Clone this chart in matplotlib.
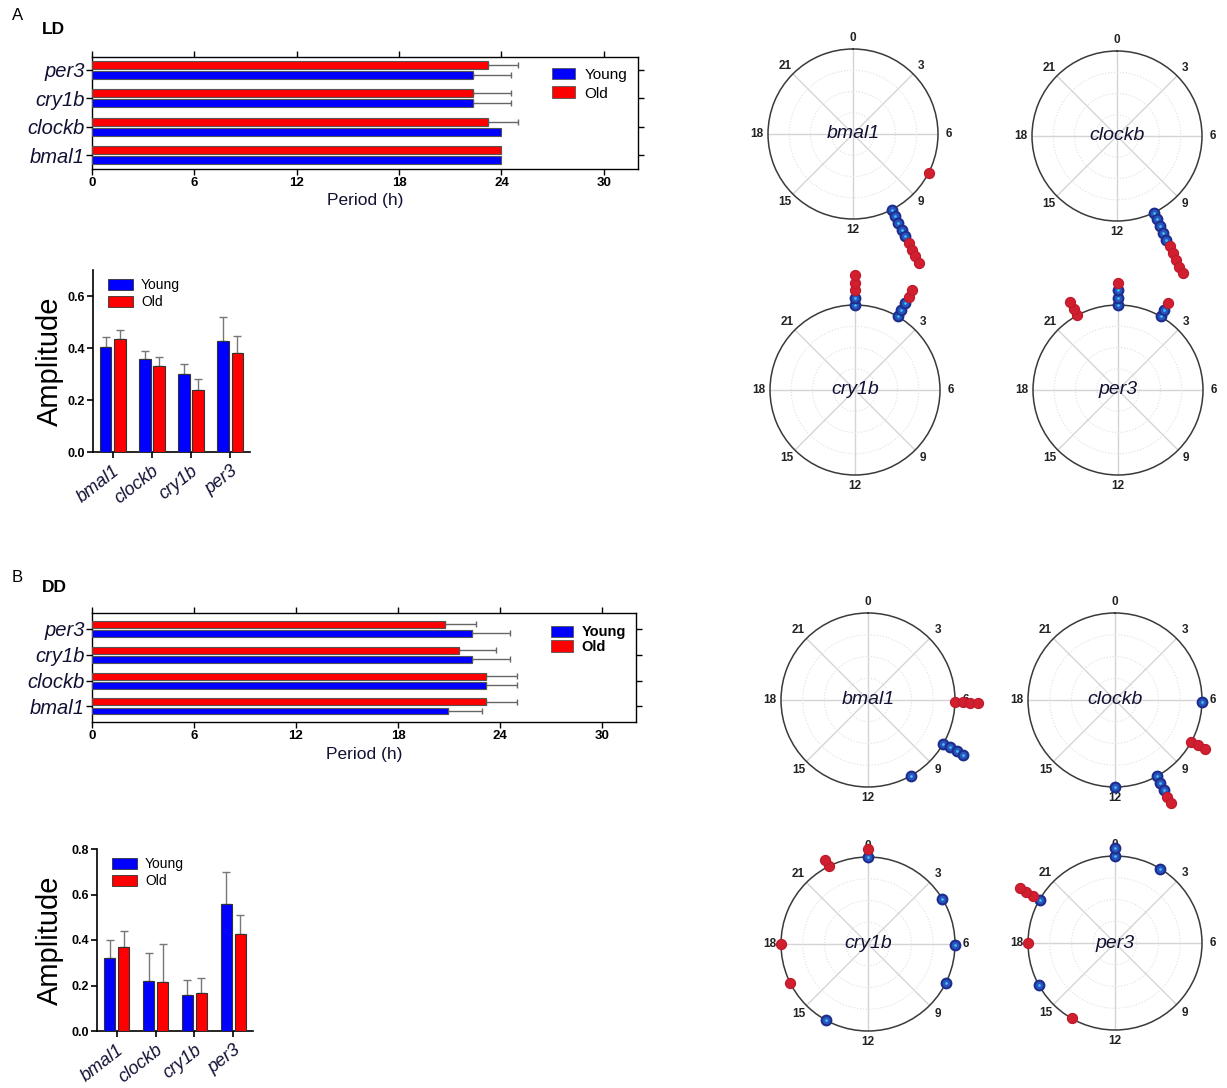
import numpy as np
import matplotlib
matplotlib.use('Agg')
import matplotlib.pyplot as plt
from matplotlib.patches import Patch

plt.rcParams['font.family'] = ['Liberation Sans', 'DejaVu Sans']

# ---------------- data ----------------
genes = ['bmal1', 'clockb', 'cry1b', 'per3']
groups = ['Young', 'Old']

ld_period_young = [24.0, 24.0, 22.35, 22.35]
ld_period_young_err = [0.0, 0.0, 2.2, 2.2]
ld_period_old = [24.0, 23.2, 22.35, 23.2]
ld_period_old_err = [0.0, 1.75, 2.2, 1.75]

dd_period_young = [20.95, 23.15, 22.37, 22.37]
dd_period_young_err = [2.0, 1.83, 2.23, 2.23]
dd_period_old = [23.15, 23.15, 21.56, 20.76]
dd_period_old_err = [1.83, 1.83, 2.2, 1.83]

ld_amp_young = [0.405, 0.358, 0.300, 0.427]
ld_amp_young_err = [0.039, 0.032, 0.038, 0.093]
ld_amp_old = [0.435, 0.329, 0.240, 0.381]
ld_amp_old_err = [0.035, 0.036, 0.041, 0.067]

dd_amp_young = [0.320, 0.220, 0.158, 0.560]
dd_amp_young_err = [0.079, 0.123, 0.067, 0.140]
dd_amp_old = [0.370, 0.214, 0.169, 0.426]
dd_amp_old_err = [0.070, 0.169, 0.064, 0.083]

# peak phases (h) of individual fish, per gene (order as in genes)
ld_phase_young = [[10.2, 10.2, 10.2, 10.2, 10.2],
                  [10.3, 10.3, 10.3, 10.3, 10.3],
                  [0.0, 0.0, 2.0, 2.0, 2.0],
                  [0.0, 0.0, 0.0, 2.0, 2.0]]
ld_phase_old = [[7.8, 10.2, 10.2, 10.2, 10.2],
                [10.3, 10.3, 10.3, 10.3, 10.3],
                [0.0, 0.0, 0.0, 2.0, 2.0],
                [0.0, 2.0, 22.1, 22.1, 22.1]]
dd_phase_young = [[8.0, 8.0, 8.0, 8.0, 10.05],
                  [6.1, 10.1, 10.1, 10.1, 12.0],
                  [0.0, 3.9, 6.05, 7.8, 13.9],
                  [0.0, 0.0, 2.1, 20.0, 16.1]]
dd_phase_old = [[6.1, 6.1, 6.1, 6.1],
                [7.9, 7.9, 7.9, 10.1, 10.1],
                [0.0, 22.2, 22.2, 18.0, 16.2],
                [20.0, 20.0, 20.0, 18.0, 14.0]]

period_ticks = [0, 6, 12, 18, 24, 30]
hour_labels = [0, 3, 6, 9, 12, 15, 18, 21]

# ---------------- style ----------------
YOUNG = '#0000ff'
OLD = '#ff0000'
TXT = '#111133'
W, H = 1227, 1088
fig = plt.figure(figsize=(W / 100, H / 100), dpi=100)


def px_axes(l, t, r, b, **kw):
    return fig.add_axes([l / W, 1 - b / H, (r - l) / W, (b - t) / H], **kw)


def period_chart(ax, young, young_err, old, old_err, ylim, legend_bold, legend_gap, anchor_y):
    y = np.arange(len(genes))
    off, h = 0.175, 0.27
    young = np.array(young); old = np.array(old)
    young_err = np.array(young_err); old_err = np.array(old_err)
    ax.barh(y - off, young, height=h, color=YOUNG, edgecolor='#555555', lw=0.8, zorder=3)
    ax.barh(y + off, old, height=h, color=OLD, edgecolor='#555555', lw=0.8, zorder=3)
    for vals, errs, yy in ((young, young_err, y - off), (old, old_err, y + off)):
        m = errs > 0
        ax.errorbar(vals[m], yy[m], xerr=[np.zeros(m.sum()), errs[m]], fmt='none',
                    ecolor='#666666', elinewidth=1, capsize=2, capthick=1, zorder=2)
    ax.set_xlim(0, 32)
    ax.set_ylim(*ylim)
    ax.set_xticks(period_ticks)
    ax.set_xticklabels([str(t) for t in period_ticks], fontsize=9.5, fontweight='bold')
    ax.set_yticks(y)
    ax.set_yticklabels(genes, fontsize=14.5, style='italic', color=TXT)
    ax.tick_params(axis='both', direction='out', top=True, right=True, length=4,
                   width=1, pad=2)
    ax.tick_params(axis='y', pad=1)
    for s in ax.spines.values():
        s.set_linewidth(1)
    ax.set_xlabel('Period (h)', fontsize=12.5, labelpad=3, color=TXT)
    handles = [Patch(facecolor=YOUNG, edgecolor='#555555', lw=0.6),
               Patch(facecolor=OLD, edgecolor='#555555', lw=0.6)]
    ax.legend(handles, groups, loc='upper right', frameon=False,
              prop=dict(size=11 if not legend_bold else 10.5,
                        weight='bold' if legend_bold else 'normal'),
              handlelength=1.5, handleheight=0.8, handletextpad=0.6,
              labelspacing=legend_gap, borderaxespad=0.3,
              bbox_to_anchor=(1.0, anchor_y))


def amp_chart(ax, young, young_err, old, old_err, ymax, yticks, label_x):
    x = np.arange(len(genes))
    off, w = 0.18, 0.29
    ax.bar(x - off, young, w, color=YOUNG, edgecolor='#333333', lw=0.8, zorder=3)
    ax.bar(x + off, old, w, color=OLD, edgecolor='#333333', lw=0.8, zorder=3)
    ax.errorbar(x - off, young, yerr=[np.zeros(4), young_err], fmt='none',
                ecolor='#777777', elinewidth=1, capsize=3, capthick=1, zorder=2)
    ax.errorbar(x + off, old, yerr=[np.zeros(4), old_err], fmt='none',
                ecolor='#777777', elinewidth=1, capsize=3, capthick=1, zorder=2)
    ax.set_ylim(0, ymax)
    ax.set_yticks(yticks)
    ax.set_yticklabels(['%.1f' % v for v in yticks], fontsize=9, fontweight='bold')
    ax.set_xticks(x)
    ax.set_xticklabels(genes, rotation=38, ha='right', rotation_mode='anchor',
                       fontsize=13, style='italic', color=TXT)
    for s in ('top', 'right'):
        ax.spines[s].set_visible(False)
    for s in ('left', 'bottom'):
        ax.spines[s].set_linewidth(1.2)
    ax.tick_params(axis='both', direction='out', length=4, width=1.2)
    ax.tick_params(axis='y', pad=2)
    ax.set_ylabel('Amplitude', fontsize=21)
    ax.yaxis.set_label_coords(label_x, 0.5)
    handles = [Patch(facecolor=YOUNG, edgecolor='#333333', lw=0.6),
               Patch(facecolor=OLD, edgecolor='#333333', lw=0.6)]
    ax.legend(handles, groups, loc='upper left', frameon=False, fontsize=10,
              handlelength=1.8, handleheight=0.8, handletextpad=0.6,
              labelspacing=0.2, borderaxespad=0.2, bbox_to_anchor=(0.04, 1.0))


def polar_chart(cx, cy, R, gene, young_ph, old_ph):
    ax = px_axes(cx - R, cy - R, cx + R, cy + R, projection='polar')
    ax.set_theta_zero_location('N')
    ax.set_theta_direction(-1)
    ax.set_ylim(0, 1)
    ax.set_xticks(np.deg2rad(np.arange(0, 360, 45)))
    ax.set_xticklabels([])
    ax.set_yticks([0.25, 0.5, 0.75])
    ax.set_yticklabels([])
    ax.xaxis.grid(True, color='#d4d4d4', lw=1.0, ls='-')
    ax.yaxis.grid(True, color='#e0e0e0', lw=0.8, ls=':')
    ax.spines['polar'].set_color('#3a3a3a')
    ax.spines['polar'].set_linewidth(1.1)
    ax.patch.set_alpha(0)
    ax.tick_params(length=0)
    for hh in hour_labels:
        ax.text(hh / 24 * 2 * np.pi, 1.13, str(hh), ha='center', va='center',
                fontsize=8.5, fontweight='bold', color='#222222', zorder=3)
    ax.text(0.5, 0.5, gene, transform=ax.transAxes, ha='center', va='center',
            fontsize=14, style='italic', color=TXT, zorder=3)
    used = []
    step = 0.088

    def radius(ph):
        k = sum(1 for u in used if abs(u - ph) < 0.3)
        used.append(ph)
        return 1.0 + k * step

    for ph in young_ph:
        r = radius(ph)
        th = ph / 24 * 2 * np.pi
        ax.plot([th], [r], 'o', ms=7.0, mfc='#2a55c0', mec='#1c2e8c', mew=1.5,
                clip_on=False, zorder=6)
        ax.plot([th], [r], 'o', ms=1.9, mfc='#3ec8f5', mec='none',
                clip_on=False, zorder=7)
    for ph in old_ph:
        r = radius(ph)
        th = ph / 24 * 2 * np.pi
        ax.plot([th], [r], 'o', ms=7.3, mfc='#d21f30', mec='#bb1a2a', mew=0.8,
                clip_on=False, zorder=6)
    return ax


# ---------------- panel A (LD) ----------------
fig.text(12 / W, 1 - 16 / H, 'A', fontsize=12, va='center', ha='left')
fig.text(42 / W, 1 - 29 / H, 'LD', fontsize=12.5, fontweight='bold', va='center', ha='left')

axA = px_axes(92, 57, 638, 169)
period_chart(axA, ld_period_young, ld_period_young_err, ld_period_old, ld_period_old_err,
             (-0.48, 3.45), False, 0.3, 1.0)

axAa = px_axes(93, 270, 250, 452)
amp_chart(axAa, ld_amp_young, ld_amp_young_err, ld_amp_old, ld_amp_old_err,
          0.70, [0.0, 0.2, 0.4, 0.6], -0.185)

polar_chart(853, 134, 85, 'bmal1', ld_phase_young[0], ld_phase_old[0])
polar_chart(1117, 136, 85, 'clockb', ld_phase_young[1], ld_phase_old[1])
polar_chart(855, 390, 85, 'cry1b', ld_phase_young[2], ld_phase_old[2])
polar_chart(1118, 390, 85, 'per3', ld_phase_young[3], ld_phase_old[3])

# ---------------- panel B (DD) ----------------
fig.text(12 / W, 1 - 578 / H, 'B', fontsize=12, va='center', ha='left')
fig.text(42 / W, 1 - 588 / H, 'DD', fontsize=12.5, fontweight='bold', va='center', ha='left')

axB = px_axes(92, 613, 636, 722)
period_chart(axB, dd_period_young, dd_period_young_err, dd_period_old, dd_period_old_err,
             (-0.6, 3.61), True, 0.05, 0.98)

axBa = px_axes(97, 849, 253, 1031)
amp_chart(axBa, dd_amp_young, dd_amp_young_err, dd_amp_old, dd_amp_old_err,
          0.80, [0.0, 0.2, 0.4, 0.6, 0.8], -0.215)

polar_chart(868, 700, 87, 'bmal1', dd_phase_young[0], dd_phase_old[0])
polar_chart(1115, 700, 87, 'clockb', dd_phase_young[1], dd_phase_old[1])
polar_chart(868, 944, 87, 'cry1b', dd_phase_young[2], dd_phase_old[2])
polar_chart(1115, 943, 87, 'per3', dd_phase_young[3], dd_phase_old[3])

fig.savefig('out.png', dpi=100, facecolor='white')
